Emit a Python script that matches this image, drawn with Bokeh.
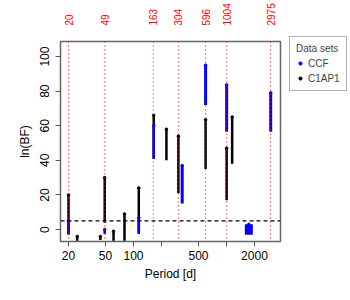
from bokeh.plotting import figure
from bokeh.models import (Range1d, FixedTicker, Span, Legend, LegendItem,
                          ColumnDataSource, LogAxis)
from bokeh.embed import file_html
from bokeh.resources import INLINE

# ---- data ----
# C1AP1 clusters: period [d], min and max ln(BF)
c1ap1_period = [20, 24.8, 44, 49, 61, 80, 114, 165, 226, 304, 596, 1004, 1151]
c1ap1_low = [-3, -6.5, -6, 4, -6.5, -6.5, -2, 41, 40, 21, 35, 17, 38]
c1ap1_high = [20, -4, -4, 30, -1, 9, 24, 66, 58, 54, 63.5, 47, 65]

# CCF clusters
ccf_period = [20, 49, 114, 165, 334, 596, 1004, 2990, 1740]
ccf_low = [-2, -2.5, -2.5, 41, 15, 72, 56.6, 56.6, -3]
ccf_high = [5, 0, 6.7, 60, 37, 95, 83.6, 79, 3]
ccf_thick = [2.5, 2.5, 2.5, 2.5, 3, 3, 3, 3, 8]

# reference periods (red dotted lines)
ref_periods = [20, 49, 163, 304, 596, 1004, 2975]
ref_labels = ["20", "49", "163", "304", "596", "1004", "2975"]

bf_threshold = 5
x_ticks = [20, 50, 100, 200, 500, 1000, 2000]
y_ticks = [0, 20, 40, 60, 80, 100]

FONT = "Liberation Sans"

p = figure(width=343, height=290, frame_width=220, frame_height=200,
           x_axis_type="log", output_backend="svg", toolbar_location=None,
           x_range=Range1d(16.4, 3811), y_range=Range1d(-6.9, 108.7),
           min_border_left=60, min_border_right=63, min_border_top=38,
           min_border_bottom=52)
p.xgrid.visible = False
p.ygrid.visible = False
p.outline_line_color = "#666666"
p.outline_line_width = 1.5
p.background_fill_color = "white"
p.border_fill_color = "white"

# clusters
c1 = ColumnDataSource(dict(x=c1ap1_period, y0=c1ap1_low, y1=c1ap1_high))
p.segment(x0="x", y0="y0", x1="x", y1="y1", source=c1, line_color="black",
          line_width=2.5)
r_c1 = p.scatter(x="x", y="y1", source=c1, marker="circle", size=2.6,
                 color="black")
c2 = ColumnDataSource(dict(x=ccf_period, y0=ccf_low, y1=ccf_high, w=ccf_thick))
p.segment(x0="x", y0="y0", x1="x", y1="y1", source=c2, line_color="#0000FF",
          line_width="w")
r_ccf = p.scatter(x="x", y="y1", source=c2, marker="circle", size=2.6,
                  color="#0000FF")

# reference lines
for per in ref_periods:
    p.add_layout(Span(location=per, dimension="height", line_color="red",
                      line_dash="1 3", line_width=1))

p.add_layout(Span(location=bf_threshold, dimension="width", line_color="black",
                  line_dash="4 3", line_width=1.2))

# axes
for ax in (p.xaxis[0], p.yaxis[0]):
    ax.axis_line_color = None
    ax.major_tick_line_color = "#555555"
    ax.major_tick_out = 5
    ax.major_tick_in = 0
    ax.minor_tick_line_color = None
    ax.major_label_text_font = FONT
    ax.major_label_text_font_size = "12px"
    ax.major_label_text_color = "black"
    ax.axis_label_text_font = FONT
    ax.axis_label_text_font_size = "12px"
    ax.axis_label_text_font_style = "normal"
    ax.axis_label_text_color = "black"

p.xaxis.ticker = FixedTicker(ticks=x_ticks)
p.xaxis.major_label_overrides = {200: "", 1000: ""}
p.xaxis.axis_label = "Period [d]"
p.xaxis.major_label_standoff = 4
p.xaxis.axis_label_standoff = 4

p.yaxis.ticker = FixedTicker(ticks=y_ticks)
p.yaxis.major_label_orientation = "vertical"
p.yaxis.axis_label = "ln(BF)"
p.yaxis.major_label_standoff = 6
p.yaxis.axis_label_standoff = 6

# top axis carrying the reference-period labels
top = LogAxis(ticker=FixedTicker(ticks=ref_periods),
              major_label_overrides={v: s for v, s in zip(ref_periods, ref_labels)},
              major_label_orientation="vertical",
              major_label_text_color="red", major_label_text_font=FONT,
              major_label_text_font_size="10px", major_label_standoff=10,
              axis_line_color=None, major_tick_line_color=None,
              minor_tick_line_color=None)
p.add_layout(top, "above")

# legend
legend = Legend(items=[LegendItem(label="CCF", renderers=[r_ccf]),
                       LegendItem(label="C1AP1", renderers=[r_c1])],
                location=(9, 150), title="Data sets",
                title_text_font=FONT, title_text_font_size="10px",
                title_text_font_style="normal", title_standoff=3,
                label_text_font=FONT, label_text_font_size="10px",
                border_line_color="#666666", border_line_width=1.2,
                glyph_width=8, glyph_height=10, label_standoff=4,
                spacing=3, padding=6, margin=0, label_height=12)
p.add_layout(legend, "right")

open("out.html", "w").write(file_html(p, INLINE))
